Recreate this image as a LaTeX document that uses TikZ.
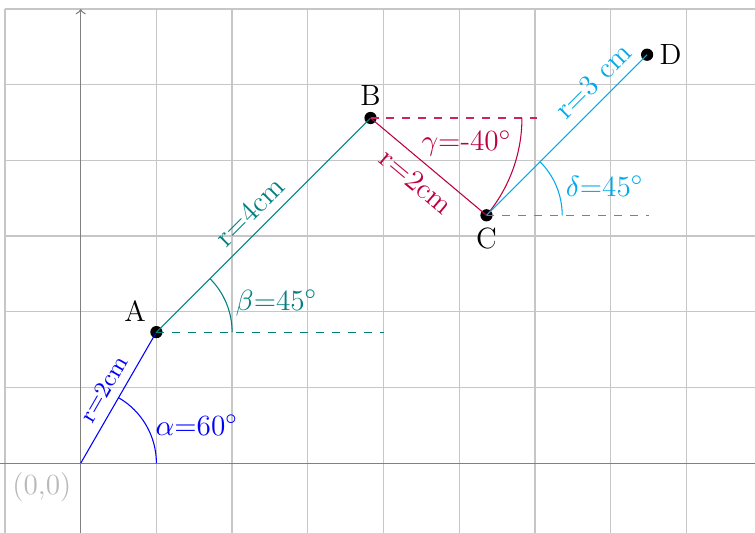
\documentclass[tikz,border=0pt]{standalone}
\usetikzlibrary{calc}
\definecolor{mycyan}{RGB}{0,170,235}
\definecolor{mypurple}{RGB}{191,0,64}
\begin{document}
\begin{tikzpicture}[font=\fontsize{11}{13}\selectfont,
  dotnode/.style={circle,fill=black,inner sep=0pt,minimum size=4.6pt},
  gridline/.style={gray!45,line width=0.5pt},
  axisline/.style={gray,line width=0.5pt},
  dashline/.style={dashed}]
\useasboundingbox (-1.066,-0.921) rectangle (8.907,6.119);
\draw[gridline,step=1cm] (-1,-1) grid (9,6);
\coordinate (O) at (0,0);
\coordinate (XL) at (-1.1,0);
\coordinate (XR) at (9.2,0);
\coordinate (YB) at (0,-1);
\coordinate (YT) at (0,6);
\draw[axisline] (XL) -- (XR);
\draw[axisline,->] (YB) -- (YT);
\node[gray!55,below left] (orig) at (O) {(0,0)};
% points
\path (O) ++(60:2) coordinate (A);
\path (A) ++(45:4) coordinate (B);
\path (B) ++(-40:2) coordinate (C);
\path (C) ++(45:3) coordinate (D);
\coordinate (A1) at ($(A)+(1,0)$);
\coordinate (A3) at ($(A)+(3,0)$);
\coordinate (O1) at (1,0);
\coordinate (B2) at ($(B)+(2,0)$);
\coordinate (B3) at ($(B)+(2.2,0)$);
\coordinate (C1) at ($(C)+(1,0)$);
\coordinate (C2) at ($(C)+(2.15,0)$);
% dots (beneath the lines)
\node[dotnode,label={[inner sep=2pt]above left:A}] (pA) at (A) {};
\node[dotnode,label={[inner sep=2pt]above:B}] (pB) at (B) {};
\node[dotnode,label={[inner sep=2pt]below:C}] (pC) at (C) {};
\node[dotnode,label={[inner sep=2pt]right:D}] (pD) at (D) {};
% alpha
\draw[blue] (O) -- node[midway,above,sloped,font=\small] {r=2cm} (A);
\draw[blue] (O1) arc (0:60:1) node[midway,right] {$\alpha$=60$^\circ$};
% beta
\draw[teal] (A) -- node[midway,above,sloped] {r=4cm} (B);
\draw[teal,dashline] (A) -- (A3);
\draw[teal] (A1) arc (0:45:1) node[midway,right] {$\beta$=45$^\circ$};
% gamma
\draw[mypurple] (B) -- node[midway,below,sloped] {r=2cm} (C);
\draw[mypurple!85,dashline] (B) -- (B3);
\draw[mypurple] (B2) arc (0:-40:2) node[midway,above left,xshift=3pt,yshift=1.5pt] {$\gamma$=-40$^\circ$};
% delta
\draw[mycyan] (C) -- node[pos=0.75,above,sloped] {r=3 cm} (D);
\draw[mycyan,line width=0.6pt,dashline] (C) -- (C2);
\draw[mycyan] (C1) arc (0:45:1) node[midway,right] {$\delta$=45$^\circ$};
\end{tikzpicture}
\end{document}
